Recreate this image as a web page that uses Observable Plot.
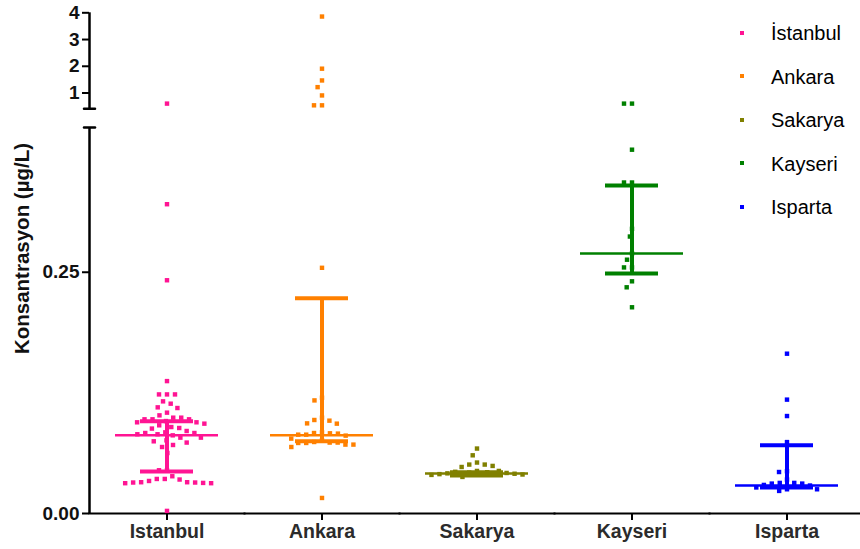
<!DOCTYPE html>
<html><head><meta charset="utf-8">
<script src="https://cdn.jsdelivr.net/npm/d3@7"></script>
<script src="https://cdn.jsdelivr.net/npm/@observablehq/plot@0.6"></script>
<style>
body{margin:0;background:#fff;overflow:hidden}
#wrap{position:relative;width:860px;height:549px;font-family:"Liberation Sans",Arial,sans-serif}
#wrap svg{position:absolute;left:0;top:0}
.lg-mark{position:absolute;width:4px;height:4px}
.lg-text{position:absolute;font-size:20px;line-height:43.5px;height:43.5px;color:#000;white-space:nowrap}
</style></head><body><div id="wrap"></div>
<script>
// ---- data ----
const categories = ["Istanbul", "Ankara", "Sakarya", "Kayseri", "Isparta"];
const legendLabels = ["İstanbul", "Ankara", "Sakarya", "Kayseri", "Isparta"];
const colors = ["#ff1493", "#ff8000", "#808000", "#008000", "#0000ff"];

const istanbul = [0.604, 0.3205, 0.2417, 0.1372, 0.1234, 0.1234, 0.1234, 0.1162, 0.1138, 0.1100, 0.1093, 0.1045, 0.1017, 0.0993, 0.0993, 0.0976, 0.0976, 0.0976, 0.0958, 0.0945, 0.0945, 0.0931, 0.0914, 0.0896, 0.0886, 0.0880, 0.0855, 0.0841, 0.0834, 0.0834, 0.0821, 0.0821, 0.0810, 0.0786, 0.0786, 0.0758, 0.0748, 0.0735, 0.0710, 0.0689, 0.0627, 0.0448, 0.0448, 0.0386, 0.0358, 0.0358, 0.0352, 0.0337, 0.0324, 0.0324, 0.0321, 0.0321, 0.0317, 0.0314, 0.0314, 0.0027];
const ankara = [3.86, 1.91, 1.47, 1.22, 0.91, 0.54, 0.54, 0.2546, 0.1200, 0.1172, 0.0993, 0.0969, 0.0962, 0.0934, 0.0931, 0.0841, 0.0834, 0.0831, 0.0828, 0.0817, 0.0817, 0.0807, 0.0776, 0.0758, 0.0741, 0.0735, 0.0735, 0.0731, 0.0731, 0.0714, 0.0714, 0.0689, 0.0161];
const sakarya = [0.0673, 0.0603, 0.0528, 0.0507, 0.0507, 0.0493, 0.0482, 0.0441, 0.0441, 0.0432, 0.0428, 0.0424, 0.0420, 0.0416, 0.0412, 0.0408, 0.0404, 0.0400, 0.0379];
const kayseri = [0.604, 0.604, 0.377, 0.343, 0.343, 0.295, 0.287, 0.2695, 0.263, 0.255, 0.255, 0.2406, 0.2344, 0.2137];
const isparta = [0.1656, 0.118, 0.101, 0.074, 0.0438, 0.0430, 0.0352, 0.0317, 0.0317, 0.0310, 0.0310, 0.0296, 0.0290, 0.0270, 0.0251, 0.0251, 0.0234];

const medians = [0.081, 0.081, 0.0414, 0.2695, 0.029];
const q1 = [0.0435, 0.0748, 0.0395, 0.2486, 0.0269];
const q3 = [0.0955, 0.2231, 0.0428, 0.340, 0.0707];

const yTicks = [0, 0.25, 1, 2, 3, 4];
const yTickLabels = ["0.00", "0.25", "1", "2", "3", "4"];
const yBreak = [0.4, 0.41];   // top of lower segment, bottom of upper segment
const yMax = 4;
const yLabel = "Konsantrasyon (µg/L)";

// ---- tables built from the arrays ----
const series = [istanbul, ankara, sakarya, kayseri, isparta];
const points = series.flatMap((vals, i) => vals.map((v) => ({cat: categories[i], v})));
const stats = categories.map((cat, i) => ({cat, median: medians[i], q1: q1[i], q3: q3[i]}));
const axisSegs = [
  {cat: categories[0], y1: 0, y2: yBreak[0]},
  {cat: categories[0], y1: yBreak[1], y2: yMax}
];
const caps = yBreak.map((y) => ({cat: categories[0], y}));
const lineShape = {draw(ctx, l) { ctx.moveTo(0, 0); ctx.lineTo(0, -l); }};
const font = '"Liberation Sans", Arial, sans-serif';

const chart = Plot.plot({
  width: 860,
  height: 549,
  marginLeft: 87.5,
  marginRight: -6,
  marginTop: 0,
  marginBottom: 36,
  style: {fontFamily: font, background: "transparent", overflow: "visible"},
  fx: {domain: categories, padding: 0, label: null},
  x: {domain: [0, 1], axis: null},
  y: {type: "linear", domain: [0, yBreak[0], yBreak[1], yMax], range: [513, 127, 108.3, 12.3]},
  color: {domain: categories, range: colors},
  marks: [
    Plot.frame({anchor: "bottom", stroke: "#000", strokeWidth: 2}),
    Plot.ruleX(axisSegs, {fx: "cat", x: 0, y1: "y1", y2: "y2", stroke: "#000", strokeWidth: 2.5}),
    Plot.vector(caps, {fx: "cat", x: 0, y: "y", length: 11, rotate: 90, anchor: "middle", shape: lineShape, stroke: "#000", strokeWidth: 2.5}),
    Plot.axisY({ticks: yTicks, tickFormat: (d) => yTickLabels[yTicks.indexOf(d)], tickSize: 7, tickPadding: 3, fontSize: 19, fontWeight: "bold", fill: "#111", stroke: "#000", strokeWidth: 2, label: null}),
    Plot.axisFx({anchor: "bottom", tickSize: 7, tickPadding: 4, fontSize: 19.5, fontWeight: "bold", fill: "#2b2b2b", stroke: "#000", strokeWidth: 2, label: null}),
    Plot.text([{cat: categories[0], t: yLabel}], {fx: "cat", text: "t", frameAnchor: "left", textAnchor: "middle", lineAnchor: "middle", rotate: -90, dx: -67, dy: -8.5, fontSize: 20.5, fontWeight: "bold", fill: "#111"}),
    Plot.dot(points, Plot.dodgeX({anchor: "middle", padding: 0, r: 4}, {fx: "cat", y: "v", r: 2.5, symbol: "square", fill: "cat"})),
    Plot.ruleX(stats, {fx: "cat", x: null, y1: "q1", y2: "q3", stroke: "cat", strokeWidth: 4}),
    Plot.ruleY(stats, {fx: "cat", y: "median", stroke: "cat", strokeWidth: 2.5, insetLeft: 26, insetRight: 26}),
    Plot.ruleY(stats, {fx: "cat", y: "q1", stroke: "cat", strokeWidth: 4, insetLeft: 51, insetRight: 51}),
    Plot.ruleY(stats, {fx: "cat", y: "q3", stroke: "cat", strokeWidth: 4, insetLeft: 51, insetRight: 51})
  ]
});

const wrap = document.getElementById("wrap");
wrap.appendChild(chart);
legendLabels.forEach((name, i) => {
  const top = 12.3 + i * 43.5;
  const m = document.createElement("div");
  m.className = "lg-mark";
  m.style.left = "739.7px";
  m.style.top = (top + 18.2) + "px";
  m.style.background = colors[i];
  wrap.appendChild(m);
  const t = document.createElement("div");
  t.className = "lg-text";
  t.style.left = "771px";
  t.style.top = top + "px";
  t.textContent = name;
  wrap.appendChild(t);
});
</script>
</body></html>
